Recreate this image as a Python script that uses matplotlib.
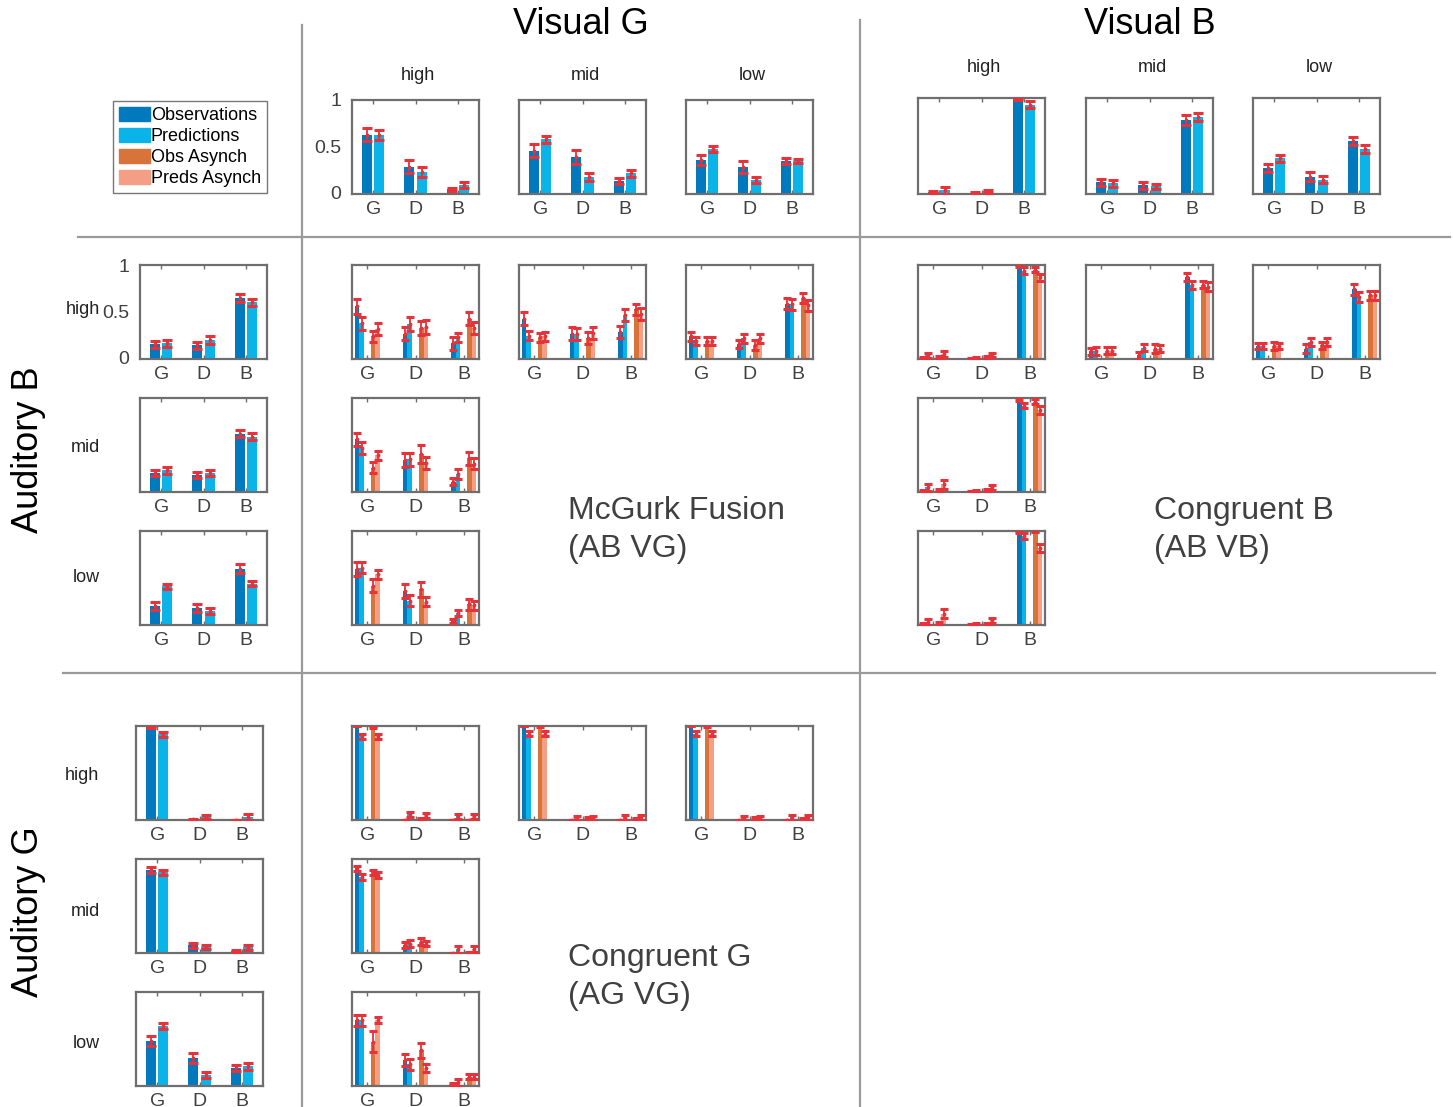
import matplotlib
matplotlib.use('Agg')
import matplotlib.pyplot as plt
from matplotlib.lines import Line2D
from matplotlib.patches import Patch
import numpy as np

plt.rcParams['font.family'] = ['Liberation Sans', 'DejaVu Sans']

W, H = 1453, 1107

cats = ['G', 'D', 'B']
levels = ['high', 'mid', 'low']

# unimodal visual, rows = high, mid, low ; columns = G, D, B
vis_g_obs = [[0.65, 0.30, 0.05], [0.46, 0.39, 0.14], [0.36, 0.29, 0.35]]
vis_g_obs_err = [[0.07, 0.07, 0.02], [0.07, 0.075, 0.03], [0.05, 0.065, 0.03]]
vis_g_pred = [[0.65, 0.24, 0.10], [0.58, 0.18, 0.22], [0.48, 0.15, 0.35]]
vis_g_pred_err = [[0.055, 0.055, 0.035], [0.04, 0.04, 0.035], [0.03, 0.03, 0.025]]

vis_b_obs = [[0.02, 0.01, 0.99], [0.12, 0.09, 0.77], [0.27, 0.18, 0.55]]
vis_b_obs_err = [[0.01, 0.01, 0.015], [0.04, 0.04, 0.05], [0.045, 0.045, 0.04]]
vis_b_pred = [[0.04, 0.03, 0.93], [0.11, 0.08, 0.80], [0.37, 0.15, 0.47]]
vis_b_pred_err = [[0.035, 0.015, 0.035], [0.035, 0.025, 0.04], [0.035, 0.035, 0.04]]

# unimodal auditory
aud_b_obs = [[0.16, 0.15, 0.67], [0.20, 0.18, 0.62], [0.20, 0.18, 0.60]]
aud_b_obs_err = [[0.04, 0.04, 0.04], [0.035, 0.035, 0.035], [0.04, 0.04, 0.045]]
aud_b_pred = [[0.17, 0.21, 0.62], [0.23, 0.20, 0.59], [0.41, 0.15, 0.44]]
aud_b_pred_err = [[0.04, 0.045, 0.04], [0.035, 0.035, 0.035], [0.025, 0.03, 0.03]]

aud_g_obs = [[0.99, 0.01, 0.00], [0.88, 0.08, 0.02], [0.48, 0.30, 0.19]]
aud_g_obs_err = [[0.01, 0.005, 0.005], [0.03, 0.03, 0.01], [0.05, 0.05, 0.03]]
aud_g_pred = [[0.91, 0.03, 0.03], [0.86, 0.06, 0.06], [0.64, 0.12, 0.21]]
aud_g_pred_err = [[0.025, 0.02, 0.03], [0.025, 0.02, 0.03], [0.03, 0.03, 0.035]]

# bimodal panels, order: (A high,V high), (A high,V mid), (A high,V low), (A mid,V high), (A low,V high)
abvg_obs = [[0.56, 0.27, 0.165], [0.43, 0.27, 0.29], [0.24, 0.16, 0.59], [0.56, 0.34, 0.11], [0.60, 0.36, 0.04]]
abvg_obs_err = [[0.08, 0.07, 0.066], [0.066, 0.066, 0.065], [0.05, 0.045, 0.055], [0.07, 0.075, 0.035], [0.075, 0.078, 0.02]]
abvg_pred = [[0.38, 0.37, 0.23], [0.25, 0.27, 0.47], [0.19, 0.22, 0.58], [0.47, 0.35, 0.19], [0.61, 0.26, 0.13]]
abvg_pred_err = [[0.07, 0.077, 0.05], [0.045, 0.063, 0.063], [0.045, 0.05, 0.055], [0.067, 0.07, 0.05], [0.06, 0.057, 0.03]]
abvg_oasy = [[0.24, 0.33, 0.43], [0.23, 0.22, 0.53], [0.19, 0.15, 0.65], [0.26, 0.40, 0.36], [0.42, 0.38, 0.22]]
abvg_oasy_err = [[0.055, 0.073, 0.07], [0.045, 0.063, 0.06], [0.045, 0.05, 0.055], [0.06, 0.095, 0.07], [0.065, 0.08, 0.06]]
abvg_pasy = [[0.32, 0.34, 0.33], [0.24, 0.28, 0.48], [0.19, 0.22, 0.57], [0.39, 0.31, 0.30], [0.54, 0.25, 0.21]]
abvg_pasy_err = [[0.06, 0.075, 0.066], [0.045, 0.063, 0.06], [0.045, 0.05, 0.055], [0.05, 0.065, 0.057], [0.05, 0.053, 0.05]]

abvb_obs = [[0.01, 0.00, 0.99], [0.08, 0.04, 0.87], [0.14, 0.11, 0.74], [0.01, 0.005, 0.98], [0.01, 0.00, 0.99]]
abvb_obs_err = [[0.015, 0.01, 0.015], [0.035, 0.035, 0.045], [0.035, 0.045, 0.055], [0.015, 0.01, 0.015], [0.015, 0.01, 0.015]]
abvb_pred = [[0.04, 0.01, 0.94], [0.085, 0.12, 0.79], [0.14, 0.18, 0.66], [0.05, 0.01, 0.92], [0.03, 0.01, 0.95]]
abvb_pred_err = [[0.025, 0.01, 0.035], [0.04, 0.04, 0.04], [0.035, 0.04, 0.053], [0.035, 0.01, 0.03], [0.03, 0.01, 0.03]]
abvb_oasy = [[0.02, 0.02, 0.95], [0.09, 0.11, 0.79], [0.14, 0.145, 0.68], [0.02, 0.02, 0.96], [0.02, 0.01, 0.995]]
abvb_oasy_err = [[0.015, 0.015, 0.025], [0.04, 0.045, 0.035], [0.04, 0.035, 0.048], [0.015, 0.01, 0.025], [0.015, 0.01, 0.01]]
abvb_pasy = [[0.05, 0.04, 0.87], [0.09, 0.11, 0.77], [0.14, 0.18, 0.68], [0.08, 0.05, 0.87], [0.12, 0.05, 0.82]]
abvb_pasy_err = [[0.03, 0.02, 0.035], [0.04, 0.035, 0.045], [0.03, 0.045, 0.048], [0.045, 0.025, 0.04], [0.05, 0.025, 0.045]]

agvg_obs = [[1.00, 0.00, 0.00], [1.00, 0.00, 0.00], [1.00, 0.00, 0.00], [0.90, 0.085, 0.00], [0.70, 0.28, 0.02]]
agvg_obs_err = [[0.005, 0.005, 0.005], [0.005, 0.005, 0.005], [0.005, 0.005, 0.005], [0.03, 0.03, 0.005], [0.06, 0.065, 0.01]]
agvg_pred = [[0.89, 0.06, 0.04], [0.92, 0.02, 0.03], [0.92, 0.02, 0.03], [0.81, 0.10, 0.04], [0.70, 0.23, 0.04]]
agvg_pred_err = [[0.03, 0.03, 0.025], [0.025, 0.02, 0.025], [0.025, 0.02, 0.025], [0.03, 0.035, 0.035], [0.06, 0.057, 0.035]]
agvg_oasy = [[0.99, 0.01, 0.00], [1.00, 0.02, 0.01], [1.00, 0.02, 0.01], [0.86, 0.12, 0.005], [0.47, 0.38, 0.10]]
agvg_oasy_err = [[0.01, 0.01, 0.005], [0.01, 0.015, 0.01], [0.01, 0.015, 0.01], [0.025, 0.035, 0.005], [0.11, 0.08, 0.03]]
agvg_pasy = [[0.89, 0.05, 0.04], [0.92, 0.02, 0.03], [0.92, 0.02, 0.03], [0.83, 0.10, 0.04], [0.70, 0.19, 0.10]]
agvg_pasy_err = [[0.03, 0.025, 0.025], [0.025, 0.02, 0.025], [0.025, 0.02, 0.025], [0.03, 0.03, 0.03], [0.035, 0.045, 0.03]]

c_obs = '#0079BF'
c_pred = '#0BB4E8'
c_oasy = '#D8733A'
c_pasy = '#F39E85'
c_err = '#E5323B'
c_frame = '#6E6E6E'
c_text = '#404040'

fig = plt.figure(figsize=(W / 100, H / 100), dpi=100)


def px_axes(x, y, w=127, h=94):
    return fig.add_axes([x / W, 1 - (y + h) / H, w / W, h / H])


def style_axes(ax, xlim, ylabels=False):
    ax.set_xlim(*xlim)
    ax.set_ylim(0, 1)
    ax.set_xticks([1, 2, 3])
    ax.set_xticklabels(cats)
    ax.tick_params(axis='x', direction='in', top=True, length=3, width=1,
                   color=c_frame, labelsize=14, labelcolor=c_text, pad=5)
    if ylabels:
        ax.set_yticks([0.02, 0.52, 1.03])
        ax.set_yticklabels(['0', '0.5', '1'])
        ax.tick_params(axis='y', direction='in', length=0, labelsize=14,
                       labelcolor=c_text, pad=8)
    else:
        ax.set_yticks([])
    for sp in ax.spines.values():
        sp.set_color(c_frame)
        sp.set_linewidth(1.6)


def draw_bars(ax, means, errs, offsets, width, colors, cap):
    x = np.arange(1, 4)
    for m, e, off, c in zip(means, errs, offsets, colors):
        ax.bar(x + off, m, width, color=c, linewidth=0, zorder=2)
        ax.errorbar(x + off, m, yerr=e, fmt='.', color=c_err, ms=3.5,
                    elinewidth=1.3, capsize=cap, capthick=2.2, zorder=3)


def two_bar_panel(x, y, obs, obs_err, pred, pred_err, ylabels=False, h=94):
    ax = px_axes(x, y, h=h)
    draw_bars(ax, [obs, pred], [obs_err, pred_err], [-0.145, 0.145], 0.24,
              [c_obs, c_pred], 3.5)
    style_axes(ax, (0.5, 3.5), ylabels)
    return ax


def four_bar_panel(x, y, obs, obs_err, pred, pred_err, oasy, oasy_err, pasy, pasy_err):
    ax = px_axes(x, y)
    draw_bars(ax, [obs, pred, oasy, pasy], [obs_err, pred_err, oasy_err, pasy_err],
              [-0.215, -0.12, 0.12, 0.215], 0.095,
              [c_obs, c_pred, c_oasy, c_pasy], 3)
    style_axes(ax, (0.68, 3.32))
    return ax


# top row: visual only
vis_g_x = [352, 519, 686]
vis_b_x = [918, 1086, 1253]
for i in range(3):
    two_bar_panel(vis_g_x[i], 100, vis_g_obs[i], vis_g_obs_err[i],
                  vis_g_pred[i], vis_g_pred_err[i], ylabels=(i == 0))
    fig.text((vis_g_x[i] + 66) / W, 1 - 75 / H, levels[i], ha='center', va='center',
             fontsize=13, color='#222222')
    two_bar_panel(vis_b_x[i], 98, vis_b_obs[i], vis_b_obs_err[i],
                  vis_b_pred[i], vis_b_pred_err[i], h=96)
    fig.text((vis_b_x[i] + 66) / W, 1 - 68 / H, levels[i], ha='center', va='center',
             fontsize=13, color='#222222')

# left column: auditory only
aud_b_y = [265, 398, 531]
aud_g_y = [726, 859, 992]
for i in range(3):
    two_bar_panel(140, aud_b_y[i], aud_b_obs[i], aud_b_obs_err[i],
                  aud_b_pred[i], aud_b_pred_err[i], ylabels=(i == 0))
    two_bar_panel(136, aud_g_y[i], aud_g_obs[i], aud_g_obs_err[i],
                  aud_g_pred[i], aud_g_pred_err[i])

row_lab_b = [(83, 310), (85, 447), (86, 578)]
row_lab_g = [(82, 775), (85, 911), (86, 1044)]
for i in range(3):
    fig.text(row_lab_b[i][0] / W, 1 - row_lab_b[i][1] / H, levels[i], ha='center',
             va='center', fontsize=13, color='#222222')
    fig.text(row_lab_g[i][0] / W, 1 - row_lab_g[i][1] / H, levels[i], ha='center',
             va='center', fontsize=13, color='#222222')

# bimodal panels
abvg_pos = [(352, 265), (519, 265), (686, 265), (352, 398), (352, 531)]
abvb_pos = [(918, 265), (1086, 265), (1253, 265), (918, 398), (918, 531)]
agvg_pos = [(352, 726), (519, 726), (686, 726), (352, 859), (352, 992)]
for k in range(5):
    four_bar_panel(*abvg_pos[k], abvg_obs[k], abvg_obs_err[k], abvg_pred[k], abvg_pred_err[k],
                   abvg_oasy[k], abvg_oasy_err[k], abvg_pasy[k], abvg_pasy_err[k])
    four_bar_panel(*abvb_pos[k], abvb_obs[k], abvb_obs_err[k], abvb_pred[k], abvb_pred_err[k],
                   abvb_oasy[k], abvb_oasy_err[k], abvb_pasy[k], abvb_pasy_err[k])
    four_bar_panel(*agvg_pos[k], agvg_obs[k], agvg_obs_err[k], agvg_pred[k], agvg_pred_err[k],
                   agvg_oasy[k], agvg_oasy_err[k], agvg_pasy[k], agvg_pasy_err[k])

# divider lines
line_kw = dict(color='#9A9A9A', linewidth=1.6, transform=fig.transFigure)
fig.add_artist(Line2D([302 / W, 302 / W], [1 - 25 / H, 0], **line_kw))
fig.add_artist(Line2D([860 / W, 860 / W], [1 - 20 / H, 0], **line_kw))
fig.add_artist(Line2D([78 / W, 1450 / W], [1 - 237 / H, 1 - 237 / H], **line_kw))
fig.add_artist(Line2D([63 / W, 1435 / W], [1 - 673 / H, 1 - 673 / H], **line_kw))

# big headers
fig.text(581 / W, 1 - 25 / H, 'Visual G', ha='center', va='center', fontsize=26, color='black')
fig.text(1150 / W, 1 - 25 / H, 'Visual B', ha='center', va='center', fontsize=26, color='black')
fig.text(29 / W, 1 - 450 / H, 'Auditory B', ha='center', va='center', fontsize=26,
         rotation=90, color='black')
fig.text(29 / W, 1 - 912 / H, 'Auditory G', ha='center', va='center', fontsize=26,
         rotation=90, color='black')

# condition labels
txt_kw = dict(ha='left', va='center', fontsize=23, color=c_text, linespacing=1.35)
fig.text(568 / W, 1 - 530 / H, 'McGurk Fusion\n(AB VG)', **txt_kw)
fig.text(1154 / W, 1 - 530 / H, 'Congruent B\n(AB VB)', **txt_kw)
fig.text(568 / W, 1 - 977 / H, 'Congruent G\n(AG VG)', **txt_kw)

# legend
handles = [Patch(color=c) for c in [c_obs, c_pred, c_oasy, c_pasy]]
leg = fig.legend(handles, ['Observations', 'Predictions', 'Obs Asynch', 'Preds Asynch'],
                 loc='upper left', bbox_to_anchor=(113 / W, 1 - 101 / H), frameon=True,
                 fancybox=False, edgecolor='#555555', fontsize=13, handlelength=1.7,
                 handleheight=0.8, handletextpad=0.05, labelspacing=0.2,
                 borderpad=0.35, borderaxespad=0)
leg.get_frame().set_linewidth(1.0)

fig.savefig('out.png', dpi=100)
